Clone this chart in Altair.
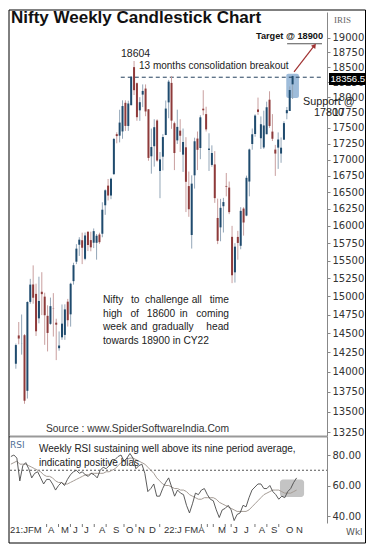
import altair as alt
import pandas as pd

# ---------------- data (weekly, Jan-2021 .. Nov-2022) ----------------
opens = [14104, 14474, 14371, 14477, 13759, 14925, 15165, 15035, 14702, 15064,
         14997, 14736, 14628, 14837, 14644, 14306, 14449, 14481, 14928, 14756,
         15211, 15484, 15726, 15791, 15525, 15915, 15793, 15755, 15754, 15874,
         15885, 16304, 16600, 16450, 16775, 17400, 17376, 17443, 17906, 17531,
         17867, 18500, 18230, 17783, 18041, 18141, 17800, 17051, 17209, 17619,
         16824, 17045, 17387, 17913, 18235, 17575, 17301, 17456, 17077, 17192,
         16593, 15867, 16757, 17330, 17181, 17810, 17722, 17151, 16917, 16925,
         16116, 15978, 16290, 16595, 16570, 15840, 15334, 15839, 15711, 16255,
         16151, 16662, 17244, 17402, 17797, 17335, 17190, 17400, 17957, 17441,
         17156, 17187, 17094, 17312, 17736, 17772, 18211]
highs = [14367, 14653, 14754, 14492, 14932, 15243, 15432, 15176, 15273, 15336,
         15051, 14878, 14984, 15045, 14697, 14527, 14890, 14892, 14966, 15189,
         15469, 15734, 15835, 15901, 15903, 15915, 15915, 15962, 15881, 15900,
         16349, 16543, 16701, 16722, 17340, 17430, 17793, 17947, 17948, 17941,
         18350, 18604, 18242, 17999, 18210, 18210, 17805, 17489, 17639, 17639,
         17118, 17400, 17944, 18286, 18350, 17600, 17794, 17639, 17490, 17352,
         16815, 16757, 17344, 17442, 17703, 18114, 17842, 17414, 17223, 17132,
         16404, 16400, 16415, 16793, 16662, 16000, 15749, 15927, 16275, 16275,
         16752, 17172, 17490, 17719, 17992, 17685, 17778, 17925, 18096, 17722,
         17230, 17428, 17348, 17607, 17838, 18176, 18362]
lows = [14040, 14357, 14222, 13597, 13662, 14900, 14900, 14467, 14635, 14746,
        14350, 14264, 14616, 14459, 14151, 14273, 14416, 14416, 14592, 14591,
        15163, 15450, 15566, 15450, 15505, 15635, 15632, 15678, 15513, 15739,
        15834, 16162, 16376, 16395, 16764, 17255, 17269, 17327, 17452, 17452,
        17865, 18034, 17614, 17613, 17836, 17688, 16982, 16782, 16891, 16966,
        16410, 16833, 17383, 17655, 17485, 16837, 17244, 17119, 16809, 16203,
        16133, 15671, 16555, 16838, 17006, 17704, 17442, 16824, 16889, 16340,
        15735, 15776, 15903, 16438, 16172, 15183, 15191, 15512, 15661, 15858,
        16142, 16438, 17154, 17359, 17710, 17166, 17167, 17400, 17501, 17291,
        16748, 16856, 16950, 17312, 17638, 17772, 17969]
closes = [14347, 14433, 14372, 13635, 14924, 15163, 14982, 14529, 14938, 15031,
          14744, 14507, 14867, 14834, 14617, 14341, 14631, 14823, 14677, 15175,
          15435, 15670, 15799, 15683, 15860, 15722, 15689, 15923, 15856, 15763,
          16238, 16529, 16450, 16705, 17324, 17369, 17585, 17853, 17532, 17895,
          18338, 18114, 17672, 17916, 18102, 17765, 17026, 17196, 17511, 16985,
          17003, 17354, 17812, 18256, 17617, 17102, 17516, 17375, 17276, 16658,
          16245, 16630, 17287, 17153, 17670, 17784, 17476, 17172, 17103, 16411,
          15782, 16266, 16352, 16584, 16202, 15293, 15699, 15752, 16221, 16049,
          16719, 17158, 17398, 17698, 17758, 17559, 17539, 17833, 17531, 17327,
          17094, 17315, 17186, 17577, 17787, 18117, 18350]
rsi = [79, 80, 78, 63, 73, 75, 71, 65, 68, 69, 65, 61, 64, 64, 61, 57, 60, 62, 60, 64,
       67, 69, 70, 68, 69, 67, 66, 68, 67, 65, 70, 72, 71, 73, 77, 77, 79, 80, 76, 78,
       81, 78, 71, 73, 74, 68, 56, 58, 61, 53, 53, 58, 62, 65, 59, 53, 57, 55, 54, 47,
       42, 48, 55, 54, 57, 58, 54, 51, 50, 44, 39, 44, 45, 47, 44, 37, 41, 42, 47, 46,
       52, 57, 59, 61, 61, 58, 58, 60, 56, 54, 51, 53, 52, 56, 58, 62, 65]
rsi_avg = [74, 75, 76, 74, 74, 74, 73, 72, 71, 70, 69, 67, 66, 66, 65, 63, 62, 62, 61, 61,
           62, 63, 64, 65, 66, 67, 67, 68, 68, 68, 68, 68, 69, 69, 70, 71, 73, 75, 76, 77,
           78, 78, 77, 76, 75, 74, 72, 70, 68, 65, 63, 61, 60, 60, 59, 58, 58, 57, 57, 56,
           54, 53, 52, 51, 51, 52, 52, 52, 52, 51, 49, 48, 47, 46, 45, 44, 43, 43, 43, 43,
           44, 46, 48, 50, 52, 54, 55, 56, 57, 57, 57, 56, 55, 55, 55, 56, 57]
price_ticks = list(range(13250, 19001, 250))
rsi_ticks = [40, 60, 80]
month_labels = ["21:JFM", "A", "M", "J", "J", "A", "S", "O", "N", "D",
                "22:J", "FMA", "M", "J", "J", "A", "S", "O", "N"]
month_pos = [-0.3, 12.5, 16.8, 20.9, 24.6, 29.6, 34.3, 38.7, 42.7, 46.4,
             51.4, 58.3, 69.6, 74.6, 78.3, 83.3, 87.4, 92.4, 95.8]
breakout_level = 18330
target_level = 18900
last_price = "18356.5"

# ---------------- layout / style ----------------
W, H1, H2 = 317, 424, 87
RIGHT = 355.5          # frame right edge (relative to plot origin)
SANS = "Liberation Sans, Arial"
UP, DOWN = "#1f4b6e", "#8e3a3a"
UPW, DOWNW = "#93a6b8", "#c99f9f"

n = len(closes)
df = pd.DataFrame({"idx": list(range(n)), "open": opens, "high": highs,
                   "low": lows, "close": closes})
rdf = pd.DataFrame({"idx": list(range(n)), "rsi": rsi, "avg": rsi_avg})
one = pd.DataFrame({"k": [0]})

xscale = alt.Scale(domain=[-0.3, 106.2], nice=False, zero=False)
pscale = alt.Scale(type="log", domain=[13202, 19457], nice=False)
rscale = alt.Scale(domain=[35.41, 92.46], nice=False, zero=False)

paxis = alt.Axis(orient="right", values=price_ticks, format="d", title=None,
                 grid=False, labelFontSize=10, labelColor="#333",
                 labelFont="DejaVu Sans", domainColor="#888", tickColor="#888",
                 tickSize=3, labelPadding=2, labelOverlap=False)
raxis = alt.Axis(orient="right", values=rsi_ticks, format=".2f", title=None,
                 grid=False, labelFontSize=10, labelColor="#333",
                 labelFont="DejaVu Sans", domainColor="#888", tickColor="#888",
                 tickSize=3, labelPadding=2)

X = alt.X("idx:Q", scale=xscale, axis=None)


def py(field):
    return alt.Y(field, scale=pscale, axis=paxis)


def txt(s, x, y, align="left", size=10, font=SANS, color="#222", weight="normal"):
    return alt.Chart(one).mark_text(text=s, align=align, baseline="middle",
                                    fontSize=size, font=font, color=color,
                                    fontWeight=weight).encode(
        x=alt.value(x), y=alt.value(y))


def hrule(x1, x2, y, color="black", w=1):
    return alt.Chart(one).mark_rule(color=color, strokeWidth=w).encode(
        x=alt.value(x1), x2=alt.value(x2), y=alt.value(y))


def vrule(x, y1, y2, color="black", w=1):
    return alt.Chart(one).mark_rule(color=color, strokeWidth=w).encode(
        x=alt.value(x), y=alt.value(y1), y2=alt.value(y2))


up_cond = "datum.close >= datum.open"

wicks = alt.Chart(df).mark_rule(strokeWidth=1).encode(
    x=X, y=py("low:Q"), y2="high:Q",
    color=alt.condition(up_cond, alt.value(UPW), alt.value(DOWNW)))
bodies = alt.Chart(df).mark_bar(size=2).encode(
    x=X, y=py("open:Q"), y2="close:Q",
    color=alt.condition(up_cond, alt.value(UP), alt.value(DOWN)))

hl = alt.Chart(pd.DataFrame({"x": [93.8], "x2": [98.2], "y": [18390], "y2": [17985]})).mark_rect(
    color="#7ea6cd", opacity=0.75, cornerRadius=2).encode(
    x=alt.X("x:Q", scale=xscale, axis=None), x2="x2:Q", y=py("y:Q"), y2="y2:Q")

dashed = alt.Chart(pd.DataFrame({"x": [36.4], "x2": [106.2], "y": [breakout_level]})).mark_rule(
    color="#24405e", strokeDash=[4, 3], strokeWidth=1).encode(
    x=alt.X("x:Q", scale=xscale, axis=None), x2="x2:Q", y=py("y:Q"))

tline = alt.Chart(pd.DataFrame({"x": [94.1], "x2": [106.2], "y": [target_level]})).mark_rule(
    color="#555", strokeWidth=1).encode(
    x=alt.X("x:Q", scale=xscale, axis=None), x2="x2:Q", y=py("y:Q"))

arrow_df = pd.DataFrame({"x": [96.5, 103.6], "y": [18420, 18870]})
arrow = alt.Chart(arrow_df).mark_line(color="#a03232", strokeWidth=1.2).encode(
    x=alt.X("x:Q", scale=xscale, axis=None), y=py("y:Q"))
arrow_head = alt.Chart(arrow_df.tail(1)).mark_point(
    shape="triangle-up", filled=True, size=28, angle=37, color="#a03232", opacity=1).encode(
    x=alt.X("x:Q", scale=xscale, axis=None), y=py("y:Q"))

# justified text block
block = ["Nifty to challenge all time", "high of 18600 in coming",
         "week and gradually head", "towards 18900 in CY22"]
bx0, bx1, by0, bdy = 93, 219, 288, 13.7
block_layers = []
for i, line in enumerate(block):
    yy = by0 + bdy * i
    if i == len(block) - 1:
        block_layers.append(txt(line, bx0, yy, size=10.2))
        continue
    words = line.split(" ")
    total = len(line)
    off = 0
    for j, w in enumerate(words):
        if j == len(words) - 1:
            block_layers.append(txt(w, bx1, yy, align="right", size=10.2))
        else:
            block_layers.append(txt(w, bx0 + (bx1 - bx0) * off / total, yy, size=10.2))
        off += len(w) + 1

price_layers = [
    hl, dashed, tline, wicks, bodies, arrow, arrow_head,
    txt("Nifty Weekly Candlestick Chart", 1, 5.5, size=17, color="#111", weight="bold"),
    txt("IRIS", 324, 8, size=9, font="Liberation Serif", color="#666"),
    txt("18604", 111, 42, size=10.5),
    txt("13 months consolidation breakout", 129, 54, size=10),
    txt("Target @ 18900", 313, 23.5, align="right", size=9.2, weight="bold", color="#111"),
    txt("Support @", 293, 89.5, size=10.8),
    txt("17800", 319, 100.5, align="center", size=10.8),
    txt("Source : www.SpiderSoftwareIndia.Com", 36, 417, size=10.3, color="#333"),
    alt.Chart(one).mark_rect(color="black").encode(
        x=alt.value(319), x2=alt.value(355), y=alt.value(61), y2=alt.value(73)),
    txt(last_price, 320.5, 67, size=9.6, color="white"),
    # frame
    hrule(-1, RIGHT, -2), vrule(-1, -2, H1), vrule(RIGHT, -2, H1),
] + block_layers

price = alt.layer(*price_layers).properties(width=W, height=H1)

# ---------------- RSI panel ----------------
RX = alt.X("idx:Q", scale=xscale,
           axis=alt.Axis(orient="bottom", labels=False, ticks=False, domain=True,
                         domainColor="#888", title=None, grid=False))


def ry(field):
    return alt.Y(field, scale=rscale, axis=raxis)


rbox = alt.Chart(pd.DataFrame({"x": [90.4], "x2": [98.5], "y": [64], "y2": [52.5]})).mark_rect(
    color="#c4c4c4", cornerRadius=3).encode(
    x=alt.X("x:Q", scale=xscale, axis=None), x2="x2:Q", y=ry("y:Q"), y2="y2:Q")
r70 = alt.Chart(pd.DataFrame({"x": [-0.3], "x2": [106.2], "y": [70]})).mark_rule(
    color="#555", strokeDash=[2, 2], strokeWidth=1).encode(
    x=alt.X("x:Q", scale=xscale, axis=None), x2="x2:Q", y=ry("y:Q"))
avg_line = alt.Chart(rdf).mark_line(color="#a59c95", strokeWidth=1).encode(x=RX, y=ry("avg:Q"))
rsi_line = alt.Chart(rdf).mark_line(color="#4a4a4a", strokeWidth=0.9).encode(x=RX, y=ry("rsi:Q"))

lab_df = pd.DataFrame({"pos": month_pos, "lab": month_labels})
mlabels = alt.Chart(lab_df).mark_text(align="left", baseline="middle", fontSize=9.5,
                                      font=SANS, color="#333").encode(
    x=alt.X("pos:Q", scale=xscale, axis=None), y=alt.value(H2 + 7), text="lab:N")
spans = [(p, p + len(t) * 1.7) for p, t in zip(month_pos, month_labels)]
minor = [w for w in range(0, n, 2) if not any(a - 0.4 <= w <= b + 0.4 for a, b in spans)]
mticks = alt.Chart(pd.DataFrame({"t": minor})).mark_rule(color="#777", strokeWidth=1).encode(
    x=alt.X("t:Q", scale=xscale, axis=None), y=alt.value(H2 + 1), y2=alt.value(H2 + 4))

rsi_layers = [
    rbox, r70, avg_line, rsi_line, mlabels, mticks,
    hrule(-1, W, 0.5, color="#999", w=2),
    txt("RSI", 0, 9, size=9, font="DejaVu Sans", color="#4f6f96"),
    txt("Weekly RSI sustaining well above its nine period average,", 29, 13, size=10),
    txt("indicating positive bias", 29, 27, size=10),
    txt("Wkl", 336, 96, size=9, font="DejaVu Sans", color="#555"),
    vrule(-1, 0, 107), vrule(RIGHT, 0, 107), hrule(-1, RIGHT, 107),
]
rsi_chart = alt.layer(*rsi_layers).properties(width=W, height=H2)

chart = alt.vconcat(price, rsi_chart, spacing=0, bounds="flush").properties(
    padding=0, background="white"
).configure_view(stroke=None)

chart.save("out.html", embed_options={"renderer": "svg", "actions": False})
